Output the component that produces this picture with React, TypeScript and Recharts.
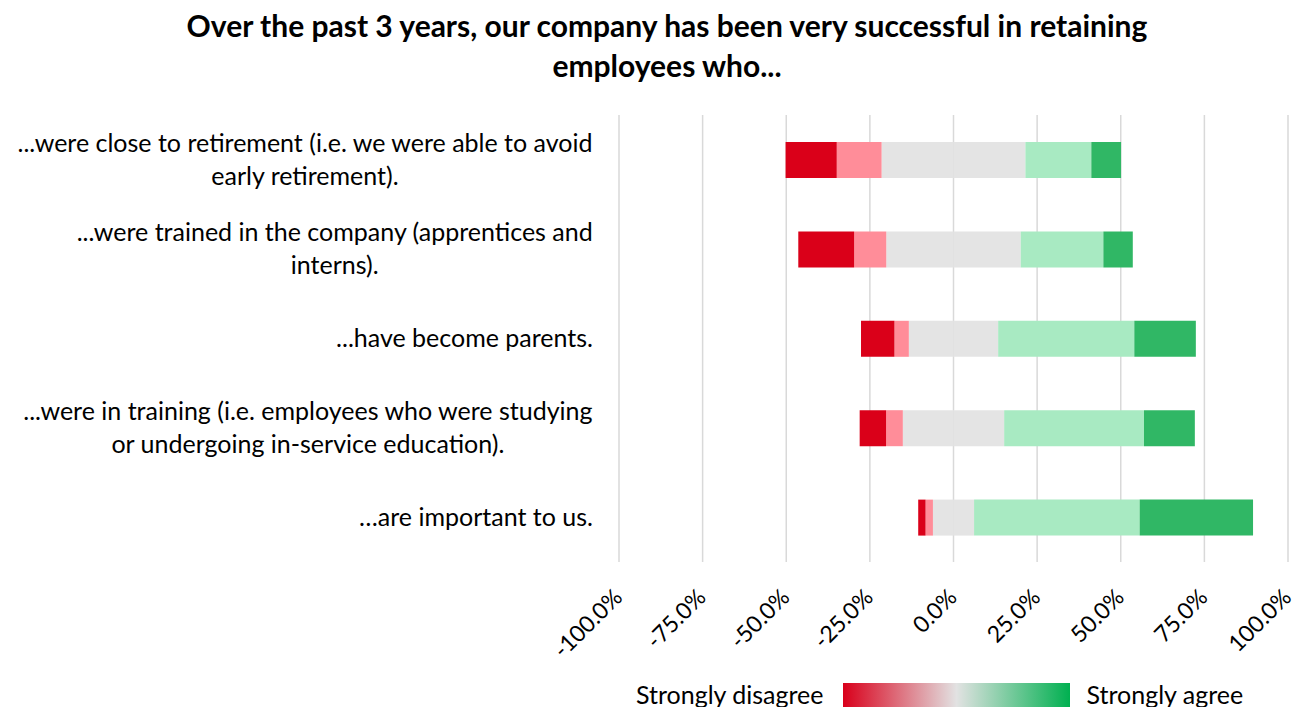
import React from "react";
import { BarChart, Bar, XAxis, YAxis, CartesianGrid } from "recharts";

// category labels (already split the way the reference wraps them)
const labelLines: string[][] = [
  ["...were close to retirement (i.e. we were able to avoid", "early retirement)."],
  ["...were trained in the company (apprentices and", "interns)."],
  ["...have become parents."],
  ["...were in training (i.e. employees who were studying", "or undergoing in-service education)."],
  ["…are important to us."],
];

// answer shares in percent
const stronglyDisagree = [15.3, 16.7, 10.0, 7.9, 2.2];
const disagree = [13.4, 9.6, 4.3, 5.0, 2.2];
const neutral = [43.0, 40.2, 26.7, 30.3, 12.3];
const agree = [19.7, 24.7, 40.7, 41.8, 49.5];
const stronglyAgree = [8.9, 8.8, 18.4, 15.2, 33.9];

const xTicks = [-100, -75, -50, -25, 0, 25, 50, 75, 100];

const FONT = "Lato, 'Open Sans', sans-serif";
const COLORS = {
  sd: "#DA0019",
  d: "#FF8D99",
  n: "#E4E4E4",
  a: "#A8EAC2",
  sa: "#30B765",
};

// neutral is split around zero, negatives go left
const data = labelLines.map((lines, i) => ({
  name: lines.join(" "),
  nNeg: -neutral[i] / 2,
  nPos: neutral[i] / 2,
  d: -disagree[i],
  a: agree[i],
  sd: -stronglyDisagree[i],
  sa: stronglyAgree[i],
}));

let ctx: CanvasRenderingContext2D | null = null;
const measure = (text: string, font: string) => {
  if (!ctx) ctx = document.createElement("canvas").getContext("2d");
  if (!ctx) return text.length * 10;
  ctx.font = font;
  return ctx.measureText(text).width;
};

const Y_FONT_SIZE = 25;
const LINE_H = 33;

const CategoryTick = (props: any) => {
  const { x, y, payload } = props;
  const idx = data.findIndex((d) => d.name === payload.value);
  const lines = labelLines[idx] || [String(payload.value)];
  const maxW = Math.max(...lines.map((l) => measure(l, `${Y_FONT_SIZE}px ${FONT}`)));
  const cx = x - maxW / 2;
  const top = y - ((lines.length - 1) * LINE_H) / 2;
  return (
    <g>
      {lines.map((l, i) => (
        <text
          key={i}
          x={cx}
          y={top + i * LINE_H}
          dy="0.35em"
          textAnchor="middle"
          fontSize={Y_FONT_SIZE}
          fontFamily={FONT}
          fill="#000"
        >
          {l}
        </text>
      ))}
    </g>
  );
};

const PercentTick = (props: any) => {
  const { x, y, payload } = props;
  return (
    <text
      transform={`translate(${x - 1}, ${y + 29}) rotate(-45)`}
      textAnchor="end"
      dy="0.35em"
      fontSize={23}
      fontFamily={FONT}
      fill="#000"
    >
      {`${Number(payload.value).toFixed(1)}%`}
    </text>
  );
};

const App: React.FC = () => {
  return (
    <div
      style={{
        position: "fixed",
        left: 0,
        top: 0,
        width: 1294,
        height: 707,
        background: "#fff",
        fontFamily: FONT,
        overflow: "hidden",
      }}
    >
      <div
        style={{
          position: "absolute",
          top: 5,
          left: 0,
          width: 1334,
          textAlign: "center",
          fontWeight: 700,
          fontSize: 30,
          lineHeight: "40px",
          color: "#000",
        }}
      >
        Over the past 3 years, our company has been very successful in retaining
        <br />
        employees who...
      </div>

      <div style={{ position: "absolute", left: 0, top: 0 }}>
        <BarChart
          width={1294}
          height={707}
          data={data}
          layout="vertical"
          stackOffset="sign"
          barSize={36}
          margin={{ top: 115, right: 6, bottom: 85, left: 0 }}
        >
          <CartesianGrid horizontal={false} stroke="#D9D9D9" strokeWidth={1.5} />
          <XAxis
            type="number"
            domain={[-100, 100]}
            ticks={xTicks}
            axisLine={false}
            tickLine={false}
            tickSize={0}
            height={60}
            interval={0}
            tick={<PercentTick />}
          />
          <YAxis
            type="category"
            dataKey="name"
            width={619}
            axisLine={false}
            tickLine={false}
            tickSize={0}
            tickMargin={26}
            interval={0}
            tick={<CategoryTick />}
          />
          <Bar dataKey="nNeg" stackId="s" fill={COLORS.n} isAnimationActive={false} />
          <Bar dataKey="nPos" stackId="s" fill={COLORS.n} isAnimationActive={false} />
          <Bar dataKey="d" stackId="s" fill={COLORS.d} isAnimationActive={false} />
          <Bar dataKey="a" stackId="s" fill={COLORS.a} isAnimationActive={false} />
          <Bar dataKey="sd" stackId="s" fill={COLORS.sd} isAnimationActive={false} />
          <Bar dataKey="sa" stackId="s" fill={COLORS.sa} isAnimationActive={false} />
        </BarChart>
      </div>

      {/* gradient legend */}
      <div
        style={{
          position: "absolute",
          left: 636,
          top: 677,
          display: "flex",
          alignItems: "flex-start",
          fontSize: 25,
          color: "#000",
          whiteSpace: "nowrap",
        }}
      >
        <span style={{ lineHeight: "34px" }}>Strongly disagree</span>
        <div
          style={{
            width: 227,
            height: 27,
            marginLeft: 19,
            marginRight: 17,
            marginTop: 6,
            background: "linear-gradient(to right, #D9001B 0%, #E2E2E2 50%, #00B050 100%)",
          }}
        />
        <span style={{ lineHeight: "34px" }}>Strongly agree</span>
      </div>
    </div>
  );
};

export default App;
